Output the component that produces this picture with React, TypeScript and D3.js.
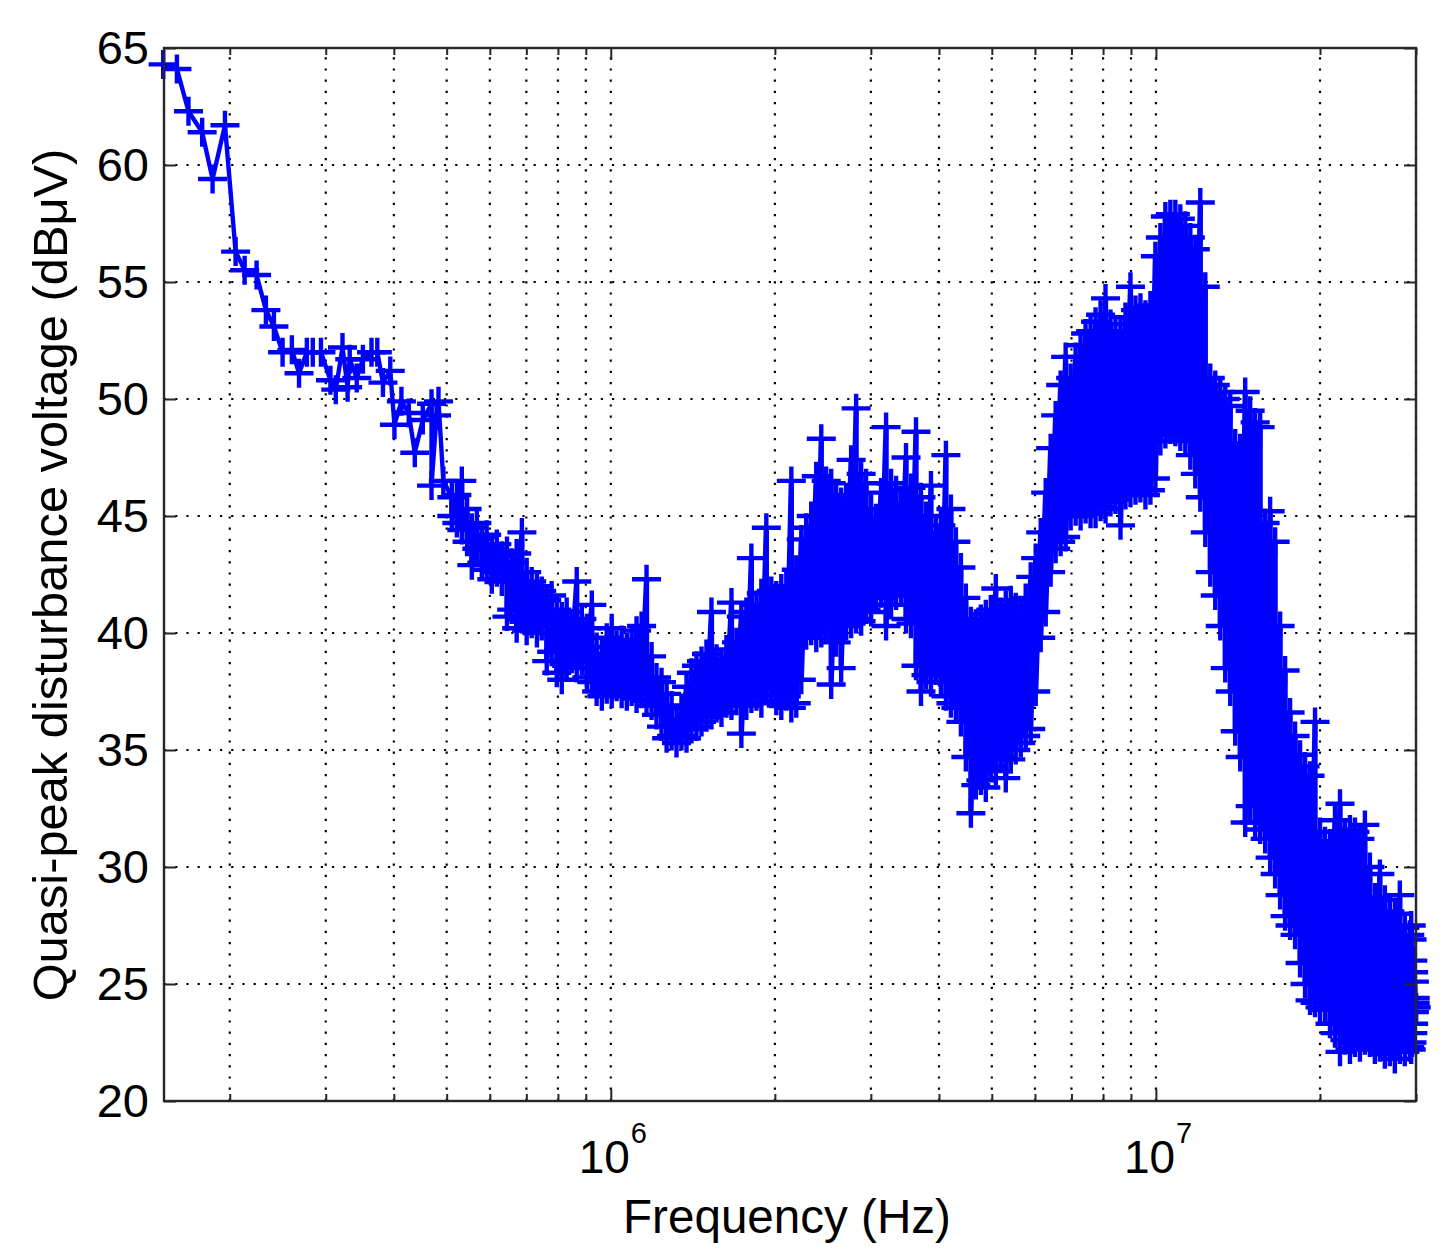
import { useEffect, useRef } from 'react';
import * as d3 from 'd3';

// Isolated sweep points at the low end of the band (kHz, dBuV)
const sparseKHz = [
  151, 160, 168, 178, 186, 196, 205, 213, 224, 233,
  241, 250, 260, 268, 277, 284, 294, 306, 313, 322,
  329, 332, 342, 351, 364, 373, 382, 394, 401, 413,
  426, 437, 452, 469, 469, 479, 483, 493,
];
const sparseDb = [
  64.3, 64.1, 62.3, 61.4, 59.4, 61.7, 56.3, 55.5, 55.3, 53.8,
  53.1, 52.0, 52.1, 51.1, 52.0, 52.0, 52.0, 50.8, 50.4, 52.2,
  50.5, 51.7, 50.9, 51.7, 52.0, 52.0, 50.7, 51.2, 48.9, 49.9,
  49.4, 47.7, 49.1, 49.8, 46.3, 49.3, 49.9, 46.5,
];

// Dense part of the sweep: crest and trough read at each frequency (kHz, dBuV)
const denseKHz = [
  511, 522, 533, 545, 556, 568, 580, 592, 605, 618,
  631, 645, 658, 672, 687, 701, 716, 732, 747, 763,
  779, 796, 813, 830, 848, 866, 885, 904, 923, 942,
  963, 983, 1004, 1025, 1047, 1070, 1092, 1115, 1139, 1163,
  1188, 1213, 1239, 1266, 1293, 1320, 1348, 1377, 1406, 1436,
  1467, 1498, 1530, 1563, 1596, 1630, 1665, 1700, 1736, 1773,
  1811, 1850, 1889, 1929, 1970, 2012, 2055, 2099, 2144, 2189,
  2236, 2283, 2332, 2382, 2433, 2484, 2537, 2591, 2646, 2703,
  2760, 2819, 2879, 2940, 3003, 3067, 3132, 3199, 3267, 3337,
  3408, 3480, 3554, 3630, 3707, 3786, 3867, 3949, 4033, 4119,
  4207, 4296, 4388, 4481, 4577, 4674, 4774, 4875, 4979, 5085,
  5193, 5304, 5417, 5532, 5650, 5770, 5893, 6019, 6147, 6278,
  6411, 6548, 6687, 6830, 6975, 7124, 7275, 7430, 7588, 7750,
  7915, 8083, 8255, 8431, 8611, 8794, 8981, 9173, 9368, 9567,
  9771, 9979, 10191, 10408, 10630, 10856, 11087, 11323, 11565, 11811,
  12062, 12319, 12581, 12849, 13123, 13402, 13688, 13979, 14277, 14581,
  14891, 15208, 15532, 15863, 16201, 16546, 16898, 17258, 17625, 18001,
  18384, 18776, 19175, 19584, 20001, 20427, 20862, 21306, 21760, 22223,
  22696, 23180, 23673, 24177, 24692, 25218, 25755, 26304, 26864, 27436,
  28020, 28617, 29226, 29400, 29500, 29600, 29700, 29800, 29900, 30000,
];
const crestDb = [
  45.8, 45.9, 46.5, 45.3, 44.5, 44.7, 44.1, 44.2, 43.6, 43.8,
  43.3, 43.5, 43.0, 43.4, 44.3, 42.6, 42.2, 42.0, 41.8, 41.4,
  41.6, 41.0, 40.7, 40.9, 40.4, 42.2, 40.6, 40.2, 41.2, 39.4,
  39.1, 39.8, 40.2, 39.5, 39.7, 39.4, 39.6, 40.1, 40.3, 42.3,
  39.0, 38.1, 37.9, 37.4, 36.9, 36.3, 36.8, 37.7, 38.3, 38.6,
  38.8, 39.1, 40.9, 38.9, 38.7, 39.3, 41.3, 39.6, 40.7, 40.9,
  43.2, 41.2, 41.7, 44.5, 41.8, 41.6, 41.9, 42.0, 46.5, 42.7,
  44.0, 44.5, 45.0, 46.7, 48.3, 46.5, 46.4, 45.9, 45.6, 45.8,
  47.4, 49.6, 46.8, 46.4, 45.3, 44.9, 46.0, 48.8, 46.4, 46.1,
  45.5, 47.5, 46.2, 48.6, 45.8, 45.0, 46.3, 44.3, 44.6, 47.6,
  45.3, 43.9, 42.8, 41.5, 40.5, 40.4, 40.6, 40.8, 41.0, 41.9,
  40.9, 41.2, 41.4, 41.1, 40.9, 41.5, 42.4, 43.2, 44.3, 46.0,
  47.9, 49.3, 50.6, 51.8, 50.9, 51.8, 52.3, 52.8, 52.9, 53.3,
  53.6, 54.3, 53.2, 52.8, 52.9, 53.5, 54.8, 53.8, 53.9, 53.6,
  54.0, 56.1, 56.9, 57.8, 57.9, 57.9, 57.7, 57.4, 56.9, 56.4,
  58.4, 54.8, 50.9, 50.6, 50.3, 50.0, 49.7, 48.1, 47.9, 50.3,
  49.5, 49.0, 48.8, 44.7, 45.2, 43.9, 40.3, 38.4, 36.6, 35.6,
  34.8, 34.3, 33.9, 36.2, 31.5, 31.1, 31.0, 32.0, 32.7, 31.4,
  31.6, 31.5, 31.2, 31.8, 30.0, 28.7, 29.7, 28.6, 28.1, 28.0,
  28.8, 27.4, 27.1, 27.5, 26.9, 26.0, 25.5, 25.1, 24.4, 24.0,
];
const troughDb = [
  45.0, 44.7, 44.4, 43.9, 42.9, 43.6, 43.0, 42.7, 42.3, 42.6,
  42.2, 40.7, 41.0, 40.2, 40.6, 40.1, 40.4, 40.0, 40.3, 38.8,
  39.2, 38.3, 38.0, 38.6, 38.9, 38.5, 38.8, 38.1, 37.9, 37.5,
  37.3, 37.6, 37.4, 37.7, 37.4, 37.3, 37.5, 37.2, 37.4, 37.1,
  36.9, 36.5, 36.0, 35.5, 35.6, 35.3, 35.6, 35.5, 35.9, 36.0,
  36.2, 36.4, 36.5, 36.8, 36.6, 37.0, 36.9, 37.1, 35.7, 36.9,
  37.2, 37.3, 37.0, 37.6, 37.4, 37.1, 36.9, 37.3, 36.8, 37.0,
  38.0, 39.9, 40.1, 39.8, 40.0, 40.2, 37.8, 39.6, 38.5, 40.3,
  40.4, 40.6, 40.5, 41.0, 40.9, 41.5, 41.7, 40.3, 41.2, 41.6,
  41.8, 40.6, 40.4, 38.6, 37.5, 38.2, 37.9, 38.4, 37.9, 37.3,
  37.0, 36.8, 36.2, 34.7, 32.3, 33.5, 33.7, 33.4, 34.3, 34.1,
  34.7, 33.8, 34.6, 35.0, 35.3, 35.6, 35.9, 37.5, 39.8, 40.9,
  42.6, 43.6, 43.9, 44.1, 45.0, 45.2, 45.0, 45.3, 45.1, 45.1,
  45.4, 45.3, 45.6, 45.7, 44.6, 45.9, 46.0, 46.1, 46.2, 45.9,
  46.1, 46.6, 48.2, 48.5, 48.7, 48.6, 48.4, 48.2, 47.6, 46.8,
  45.8, 44.3, 42.6, 41.6, 40.3, 38.5, 37.5, 35.8, 34.7, 31.9,
  32.6, 31.9, 31.6, 31.2, 30.4, 29.7, 28.8, 27.9, 27.5, 27.1,
  25.9, 25.0, 24.3, 24.2, 24.0, 23.9, 23.3, 22.9, 22.1, 22.6,
  22.2, 22.5, 22.3, 22.6, 22.5, 22.2, 22.3, 22.0, 22.1, 21.8,
  22.2, 22.1, 22.3, 22.2, 22.5, 22.9, 23.3, 23.8, 24.2, 24.0,
];

const yTicks = [20, 25, 30, 35, 40, 45, 50, 55, 60, 65];
const xMinorTicks = [
  2e5, 3e5, 4e5, 5e5, 6e5, 7e5, 8e5, 9e5,
  2e6, 3e6, 4e6, 5e6, 6e6, 7e6, 8e6, 9e6,
  2e7, 3e7,
];
const xMajorTicks = [
  { value: 1e6, exponent: '6' },
  { value: 1e7, exponent: '7' },
];

const width = 1456;
const height = 1260;
const plot = { left: 164, right: 1416, top: 48, bottom: 1101 };
const font = '"Liberation Sans", Arial, sans-serif';
const axisColor = '#262626';

type Sample = { hz: number; db: number };

const samples: Sample[] = [
  ...sparseKHz.map((k, i) => ({ hz: k * 1000, db: sparseDb[i] })),
  ...denseKHz.flatMap((k, i) => [
    { hz: k * 1000, db: crestDb[i] },
    { hz: k * 1000, db: troughDb[i] },
  ]),
];

export default function App() {
  const svgRef = useRef<SVGSVGElement>(null);

  useEffect(() => {
    if (!svgRef.current) return;

    const svg = d3.select(svgRef.current);
    svg.selectAll('*').remove();

    const xScale = d3.scaleLog().domain([151500, 3e7]).range([plot.left, plot.right]);
    const yScale = d3.scaleLinear().domain([20, 65]).range([plot.bottom, plot.top]);
    const allX = [...xMinorTicks, ...xMajorTicks.map(t => t.value)];

    // Dotted grid
    const grid = svg.append('g')
      .attr('stroke', '#000')
      .attr('stroke-width', 2.2)
      .attr('stroke-dasharray', '2.2 9');

    grid.selectAll('.vgrid')
      .data(allX)
      .join('line')
      .attr('class', 'vgrid')
      .attr('x1', d => xScale(d))
      .attr('x2', d => xScale(d))
      .attr('y1', plot.bottom)
      .attr('y2', plot.top);

    grid.selectAll('.hgrid')
      .data(yTicks.slice(1, -1))
      .join('line')
      .attr('class', 'hgrid')
      .attr('x1', plot.left)
      .attr('x2', plot.right)
      .attr('y1', d => yScale(d))
      .attr('y2', d => yScale(d));

    // Trace: the dense part is drawn a little wider so the sweep closes up solid
    const line = d3.line<Sample>()
      .x(d => xScale(d.hz))
      .y(d => yScale(d.db));

    const splitAt = sparseKHz.length;
    [
      { part: samples.slice(0, splitAt + 1), strokeWidth: 4.4 },
      { part: samples.slice(splitAt), strokeWidth: 5.3 },
    ].forEach(({ part, strokeWidth }) => {
      svg.append('path')
        .datum(part)
        .attr('d', line)
        .attr('fill', 'none')
        .attr('stroke', '#0000ff')
        .attr('stroke-width', strokeWidth)
        .attr('stroke-linejoin', 'round');
    });

    // + markers
    svg.append('g')
      .selectAll('path')
      .data(samples)
      .join('path')
      .attr('transform', d => `translate(${xScale(d.hz)},${yScale(d.db)})`)
      .attr('d', 'M-14.5 0H14.5M0 -14.5V14.5')
      .attr('fill', 'none')
      .attr('stroke', '#0000ff')
      .attr('stroke-width', 4.4);

    // Ticks on all four sides
    const drawXTicks = (values: number[], length: number) => {
      svg.append('g')
        .attr('transform', `translate(0,${plot.bottom})`)
        .call(d3.axisBottom(xScale).tickValues(values).tickSize(-length).tickFormat(() => ''))
        .call(g => g.select('.domain').remove())
        .selectAll('line')
        .attr('stroke', axisColor)
        .attr('stroke-width', 2);
      svg.append('g')
        .attr('transform', `translate(0,${plot.top})`)
        .call(d3.axisTop(xScale).tickValues(values).tickSize(-length).tickFormat(() => ''))
        .call(g => g.select('.domain').remove())
        .selectAll('line')
        .attr('stroke', axisColor)
        .attr('stroke-width', 2);
    };
    drawXTicks(xMinorTicks, 7);
    drawXTicks(xMajorTicks.map(t => t.value), 12);

    const yAxis = svg.append('g')
      .attr('transform', `translate(${plot.left},0)`)
      .call(d3.axisLeft(yScale).tickValues(yTicks).tickSize(-12).tickPadding(15).tickFormat(d => String(d)));
    yAxis.select('.domain').remove();
    yAxis.selectAll('line').attr('stroke', axisColor).attr('stroke-width', 2);
    yAxis.selectAll('text')
      .attr('font-family', font)
      .attr('font-size', 47)
      .attr('fill', '#000');

    const yAxisRight = svg.append('g')
      .attr('transform', `translate(${plot.right},0)`)
      .call(d3.axisRight(yScale).tickValues(yTicks).tickSize(-12).tickFormat(() => ''));
    yAxisRight.select('.domain').remove();
    yAxisRight.selectAll('line').attr('stroke', axisColor).attr('stroke-width', 2);

    // Box
    svg.append('rect')
      .attr('x', plot.left)
      .attr('y', plot.top)
      .attr('width', plot.right - plot.left)
      .attr('height', plot.bottom - plot.top)
      .attr('fill', 'none')
      .attr('stroke', axisColor)
      .attr('stroke-width', 2.4);

    // Decade labels with superscript
    xMajorTicks.forEach(t => {
      const x = xScale(t.value);
      svg.append('text')
        .attr('x', x - 32)
        .attr('y', 1173)
        .attr('font-family', font)
        .attr('font-size', 46)
        .attr('fill', '#000')
        .text('10');
      svg.append('text')
        .attr('x', x + 20)
        .attr('y', 1143)
        .attr('font-family', font)
        .attr('font-size', 29)
        .attr('fill', '#000')
        .text(t.exponent);
    });

    // Axis labels
    svg.append('text')
      .attr('x', 787)
      .attr('y', 1233)
      .attr('text-anchor', 'middle')
      .attr('font-family', font)
      .attr('font-size', 47.6)
      .attr('fill', '#000')
      .text('Frequency (Hz)');

    svg.append('text')
      .attr('transform', 'translate(67,575) rotate(-90)')
      .attr('text-anchor', 'middle')
      .attr('font-family', font)
      .attr('font-size', 48.8)
      .attr('fill', '#000')
      .text('Quasi-peak disturbance voltage (dBμV)');
  }, []);

  return (
    <svg
      ref={svgRef}
      width={width}
      height={height}
      style={{ position: 'absolute', left: 0, top: 0, background: '#fff', display: 'block' }}
    />
  );
}
